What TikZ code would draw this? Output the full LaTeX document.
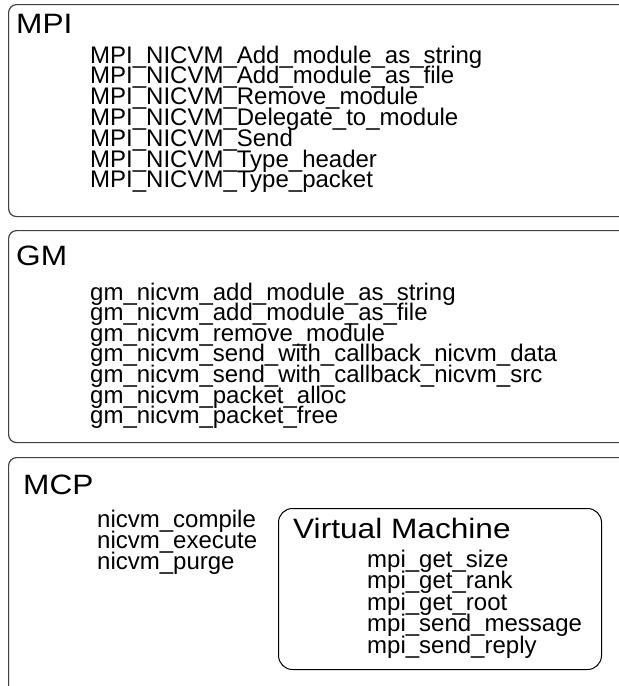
\documentclass[tikz,border=0pt]{standalone}
\usepackage{fontspec}
\setmainfont{Liberation Sans}
\newfontfamily\headfont[FakeStretch=1.13]{Liberation Sans}
\usetikzlibrary{positioning}

\begin{document}
\begin{tikzpicture}[x=1pt, y=-1pt,
  layer/.style={draw=black!75, line width=1.2pt, rounded corners=8pt, inner sep=0pt, anchor=north west, minimum width=640pt},
  vmbox/.style={draw=black, line width=1pt, rounded corners=14pt, inner sep=0pt, anchor=north west},
  heading/.style={anchor=base west, inner sep=0pt, font=\headfont\fontsize{28}{28}\selectfont},
  entry/.style={anchor=base west, inner sep=0pt, font=\fontsize{24}{21}\selectfont}]
\useasboundingbox (0,0) rectangle (619,686);
\clip (0,0) rectangle (619,686);
% layer boxes, cut off at the right
\node[layer, minimum height=212pt] (mpi) at (8,4) {};
\node[layer, minimum height=212pt] (gm) at (8,230) {};
\node[layer, minimum height=260pt] (mcp) at (8,457) {};
\node[vmbox, minimum width=323pt, minimum height=161pt] (vm) at (278,508) {};
% headings
\node[heading] (mpi-title) at (16,33) {MPI};
\node[heading] (gm-title) at (16,265) {GM};
\node[heading] (mcp-title) at (23,494) {MCP};
\node[heading] (vm-title) at (293,538) {Virtual Machine};
% function lists
\foreach \fn [count=\i from 0] in {MPI\_NICVM\_Add\_module\_as\_string, MPI\_NICVM\_Add\_module\_as\_file, MPI\_NICVM\_Remove\_module, MPI\_NICVM\_Delegate\_to\_module, MPI\_NICVM\_Send, MPI\_NICVM\_Type\_header, MPI\_NICVM\_Type\_packet}
  \node[entry] (mpi-\i) at (90,{63+20.8*\i}) {\fn};
\foreach \fn [count=\i from 0] in {gm\_nicvm\_add\_module\_as\_string, gm\_nicvm\_add\_module\_as\_file, gm\_nicvm\_remove\_module, gm\_nicvm\_send\_with\_callback\_nicvm\_data, gm\_nicvm\_send\_with\_callback\_nicvm\_src, gm\_nicvm\_packet\_alloc, gm\_nicvm\_packet\_free}
  \node[entry] (gm-\i) at (90,{300+20.6*\i}) {\fn};
\foreach \fn [count=\i from 0] in {nicvm\_compile, nicvm\_execute, nicvm\_purge}
  \node[entry] (mcp-\i) at (97,{527+21*\i}) {\fn};
\foreach \fn [count=\i from 0] in {mpi\_get\_size, mpi\_get\_rank, mpi\_get\_root, mpi\_send\_message, mpi\_send\_reply}
  \node[entry] (vm-\i) at (367,{567+21.5*\i}) {\fn};
\end{tikzpicture}
\end{document}
